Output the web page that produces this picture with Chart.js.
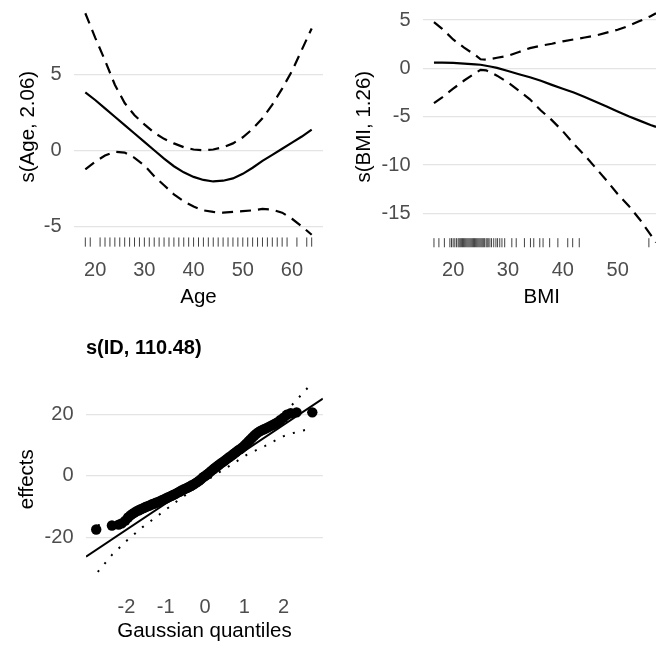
<!DOCTYPE html>
<html>
<head>
<meta charset="utf-8">
<script src="https://cdn.jsdelivr.net/npm/chart.js@4.4.1/dist/chart.umd.min.js"></script>
<style>
  html, body { margin: 0; padding: 0; background: #fff; width: 656px; height: 651px; overflow: hidden; }
  .panel { position: absolute; }
</style>
</head>
<body>
<div class="panel" style="left:0;top:0;width:330px;height:320px"><canvas id="ageChart"></canvas></div>
<div class="panel" style="left:330px;top:0;width:336px;height:320px"><canvas id="bmiChart"></canvas></div>
<div class="panel" style="left:0;top:320px;width:330px;height:331px"><canvas id="idChart"></canvas></div>
<script>
// s(Age) smooth
const ageX     = [18, 20, 22, 24, 26, 28, 30, 32, 34, 36, 38, 40, 42, 44, 46, 48, 50, 52, 54, 56, 58, 60, 62, 64];
const ageFit   = [3.8, 3.3, 2.75, 2.2, 1.65, 1.1, 0.55, 0.0, -0.55, -1.05, -1.45, -1.75, -1.95, -2.05, -2.0, -1.85, -1.55, -1.15, -0.7, -0.3, 0.1, 0.5, 0.9, 1.35];
const ageUpper = [9.0, 7.4, 5.9, 4.3, 3.1, 2.3, 1.7, 1.15, 0.75, 0.45, 0.2, 0.05, 0.0, 0.05, 0.2, 0.45, 0.85, 1.4, 2.1, 3.0, 4.05, 5.2, 6.6, 8.0];
const ageLower = [-1.25, -0.75, -0.35, -0.1, -0.15, -0.5, -1.0, -1.7, -2.3, -2.9, -3.35, -3.7, -3.95, -4.05, -4.1, -4.05, -4.0, -3.95, -3.85, -3.9, -4.1, -4.5, -5.0, -5.55];
const ageRug   = [18, 19, 21, 22, 23, 24, 25, 26, 27, 28, 29, 30, 31, 32, 33, 34, 35, 36, 37, 38, 39, 40,
                  41, 42, 43, 44, 45, 46, 47, 48, 49, 50, 51, 52, 53, 54, 55, 56, 57, 58, 59, 61, 63, 64];
const ageTicksX = [20, 30, 40, 50, 60];
const ageTicksY = [-5, 0, 5];

// s(BMI) smooth
const bmiX     = [16.5, 18, 20, 22, 24, 25, 26, 27, 28, 30, 32, 34, 36, 38, 40, 42, 44, 46, 48, 50, 52, 54, 56, 57];
const bmiFit   = [0.6, 0.6, 0.57, 0.5, 0.42, 0.38, 0.28, 0.17, 0.05, -0.27, -0.6, -0.92, -1.28, -1.7, -2.1, -2.5, -2.95, -3.45, -3.95, -4.45, -4.95, -5.4, -5.85, -6.05];
const bmiUpper = [4.8, 4.1, 3.0, 2.15, 1.4, 0.95, 0.9, 1.0, 1.1, 1.3, 1.7, 2.1, 2.35, 2.55, 2.8, 3.0, 3.2, 3.4, 3.7, 4.0, 4.4, 4.9, 5.4, 5.7];
const bmiLower = [-3.6, -3.0, -2.1, -1.25, -0.5, -0.15, -0.2, -0.45, -0.75, -1.45, -2.3, -3.2, -4.35, -5.35, -6.5, -7.8, -9.0, -10.3, -11.6, -13.0, -14.2, -15.6, -17.2, -18.0];
const bmiRug   = [16.5, 17.4, 18.4, 19.4, 19.7, 20.0, 20.3, 20.6, 20.9, 21.1, 21.3, 21.5, 21.7, 21.9, 22.1, 22.3,
                  22.5, 22.7, 22.9, 23.1, 23.3, 23.5, 23.7, 23.9, 24.1, 24.3, 24.5, 24.7, 24.9, 25.1, 25.3, 25.5,
                  25.7, 26.0, 26.2, 26.4, 26.7, 27.0, 27.4, 27.8, 28.1, 28.5, 28.9, 29.4, 30.7, 31.5, 33.0, 34.1,
                  34.7, 35.8, 36.4, 37.6, 39.1, 40.9, 41.8, 43.0, 55.7];
const bmiTicksX = [20, 30, 40, 50];
const bmiTicksY = [-15, -10, -5, 0, 5];

// s(ID) random effect QQ plot
const idQuant = [-2.77, -2.37, -2.2, -2.12, -2.03, -1.96, -1.9, -1.85, -1.8, -1.75, -1.7, -1.65, -1.6, -1.55, -1.5,
                 -1.45, -1.4, -1.35, -1.3, -1.25, -1.2, -1.15, -1.1, -1.05, -1.0, -0.95, -0.9, -0.85, -0.8, -0.75,
                 -0.7, -0.65, -0.6, -0.55, -0.5, -0.45, -0.4, -0.35, -0.3, -0.25, -0.2, -0.15, -0.1, -0.05, 0.0,
                 0.05, 0.1, 0.15, 0.2, 0.25, 0.3, 0.35, 0.4, 0.45, 0.5, 0.55, 0.6, 0.65, 0.7, 0.75, 0.8, 0.85,
                 0.9, 0.95, 1.0, 1.05, 1.1, 1.15, 1.2, 1.25, 1.3, 1.35, 1.4, 1.45, 1.5, 1.55, 1.6, 1.66, 1.72,
                 1.78, 1.85, 1.92, 2.0, 2.08, 2.18, 2.33, 2.73];
const idEffect = [-17.5, -16.2, -15.9, -15.5, -14.6, -13.6, -12.9, -12.4, -12.0, -11.6, -11.3, -11.0, -10.7, -10.4, -10.1,
                  -9.9, -9.6, -9.3, -9.1, -8.8, -8.6, -8.3, -8.0, -7.7, -7.4, -7.1, -6.8, -6.5, -6.2, -5.9,
                  -5.5, -5.2, -4.8, -4.5, -4.2, -3.9, -3.6, -3.2, -2.9, -2.5, -2.1, -1.6, -1.1, -0.5, -0.1,
                  0.4, 0.9, 1.5, 2.0, 2.5, 3.0, 3.5, 4.0, 4.4, 4.9, 5.4, 5.9, 6.3, 6.8, 7.3, 7.8, 8.3,
                  8.7, 9.2, 9.8, 10.4, 11.1, 11.7, 12.4, 13.0, 13.6, 14.1, 14.5, 14.8, 15.1, 15.4, 15.7, 16.1, 16.5,
                  16.9, 17.4, 18.1, 18.9, 19.8, 20.3, 20.6, 20.6];
const refQuant = [-3.03, 3.0];
const refLine  = [-26.3, 25.1];
const ciQuant  = [-2.73, -2.36, -1.99, -1.59, -1.17, -0.76, -0.4, 0, 0.4, 0.76, 1.06, 1.53, 1.99, 2.25, 2.5, 2.73];
const ciLower  = [-31.3, -25.6, -21.1, -16.7, -12.7, -8.7, -5.4, -1.8, 1.4, 4.3, 6.8, 9.7, 12.8, 13.9, 14.7, 15.4];
const ciUpper  = [-16.1, -15.5, -13.7, -11.3, -8.1, -5.2, -2.3, 0.9, 4.5, 7.8, 10.4, 15.5, 20.2, 23.5, 27.0, 30.2];
const idTicksX = [-2, -1, 0, 1, 2];
const idTicksY = [-20, 0, 20];

Chart.defaults.font.family = "'Liberation Sans', Arial, sans-serif";
Chart.defaults.animation = false;
Chart.defaults.events = [];
Chart.defaults.plugins.legend.display = false;
Chart.defaults.plugins.tooltip.enabled = false;

const GRID_COLOR = '#e4e4e4';
const TICK_COLOR = '#4d4d4d';
const DASHED = [11, 7];
const DOTTED = [2, 8.5];

function toPoints(xs, ys) {
    return xs.map((x, i) => ({ x: x, y: ys[i] }));
}

function lineSet(xs, ys, dash, width) {
    return {
        type: 'scatter', showLine: true, data: toPoints(xs, ys),
        borderColor: '#000', borderWidth: width || 2.2, borderDash: dash || [],
        borderCapStyle: 'butt', pointRadius: 0, tension: 0, fill: false, order: 1
    };
}

// rug ticks sit along the bottom of the panel
function rugSet(xs, yPos) {
    return {
        type: 'scatter', data: xs.map(x => ({ x: x, y: yPos })),
        pointStyle: 'line', rotation: 90, pointRadius: 4.6,
        borderColor: 'rgba(0,0,0,0.75)', borderWidth: 1, order: 2
    };
}

function xAxis(min, max, ticks, title, height, tickPad, titlePad) {
    return {
        type: 'linear', min: min, max: max,
        afterBuildTicks: s => { s.ticks = ticks.map(v => ({ value: v })); },
        afterFit: s => { s.height = height; s.paddingLeft = 0; s.paddingRight = 0; },
        grid: { display: false, drawTicks: false },
        border: { display: false },
        ticks: { color: TICK_COLOR, font: { size: 20, lineHeight: 1 }, padding: tickPad, maxRotation: 0, autoSkip: false },
        title: { display: true, text: title, color: '#000', font: { size: 20.5 }, padding: { top: 0, bottom: titlePad } }
    };
}

function yAxis(min, max, ticks, title, width, titlePad) {
    return {
        type: 'linear', min: min, max: max,
        afterBuildTicks: s => { s.ticks = ticks.map(v => ({ value: v })); },
        // no extra room for half tick labels, the panel fills the box
        afterFit: s => { s.width = width; s.paddingTop = 0; s.paddingBottom = 0; },
        grid: { color: GRID_COLOR, lineWidth: 1.2, drawTicks: false },
        border: { display: false },
        ticks: { color: TICK_COLOR, font: { size: 20, lineHeight: 1 }, padding: 12.5, autoSkip: false },
        title: { display: true, text: title, color: '#000', font: { size: 20.5 }, padding: { top: titlePad, bottom: 0 } }
    };
}

// top left: Age
new Chart(document.getElementById('ageChart'), {
    type: 'scatter',
    data: {
        datasets: [
            lineSet(ageX, ageFit),
            lineSet(ageX, ageUpper, DASHED),
            lineSet(ageX, ageLower, DASHED),
            rugSet(ageRug, -6.03)
        ]
    },
    options: {
        responsive: true, maintainAspectRatio: false,
        layout: { padding: { top: 1, right: 7, bottom: 0, left: 0 } },
        scales: {
            x: xAxis(15.7, 66.3, ageTicksX, 'Age', 72.3, 12.3, 10),
            y: yAxis(-6.4, 9.5, ageTicksY, 's(Age, 2.06)', 74, 16.2)
        }
    }
});

// top right: BMI
new Chart(document.getElementById('bmiChart'), {
    type: 'scatter',
    data: {
        datasets: [
            lineSet(bmiX, bmiFit),
            lineSet(bmiX, bmiUpper, DASHED),
            lineSet(bmiX, bmiLower, DASHED),
            rugSet(bmiRug, -18.04)
        ]
    },
    options: {
        responsive: true, maintainAspectRatio: false,
        layout: { padding: { top: 0, right: 4.5, bottom: 0, left: 0 } },
        scales: {
            x: xAxis(14.5, 57.8, bmiTicksX, 'BMI', 72.3, 12.3, 10),
            y: yAxis(-18.55, 6.5, bmiTicksY, 's(BMI, 1.26)', 93, 21.7)
        }
    }
});

// bottom left: ID quantile plot
const qqPoints = {
    type: 'scatter', data: toPoints(idQuant, idEffect),
    pointRadius: 5.2, pointStyle: 'circle', backgroundColor: '#000', borderWidth: 0, order: 0
};

new Chart(document.getElementById('idChart'), {
    type: 'scatter',
    data: {
        datasets: [
            qqPoints,
            lineSet(refQuant, refLine, [], 2),
            lineSet(ciQuant, ciLower, DOTTED, 2),
            lineSet(ciQuant, ciUpper, DOTTED, 2)
        ]
    },
    options: {
        responsive: true, maintainAspectRatio: false,
        layout: { padding: { top: 0, right: 7.1, bottom: 0, left: 0 } },
        plugins: {
            title: {
                display: true, text: 's(ID, 110.48)', align: 'start', fullSize: false,
                color: '#000', font: { size: 20, weight: 'bold', lineHeight: 1.2 },
                padding: { top: 16, bottom: 17.6 }
            }
        },
        scales: {
            x: xAxis(-3.03, 3.0, idTicksX, 'Gaussian quantiles', 70.1, 16.1, 7),
            y: yAxis(-34.2, 31.9, idTicksY, 'effects', 86, 15.2)
        }
    }
});
</script>
</body>
</html>
